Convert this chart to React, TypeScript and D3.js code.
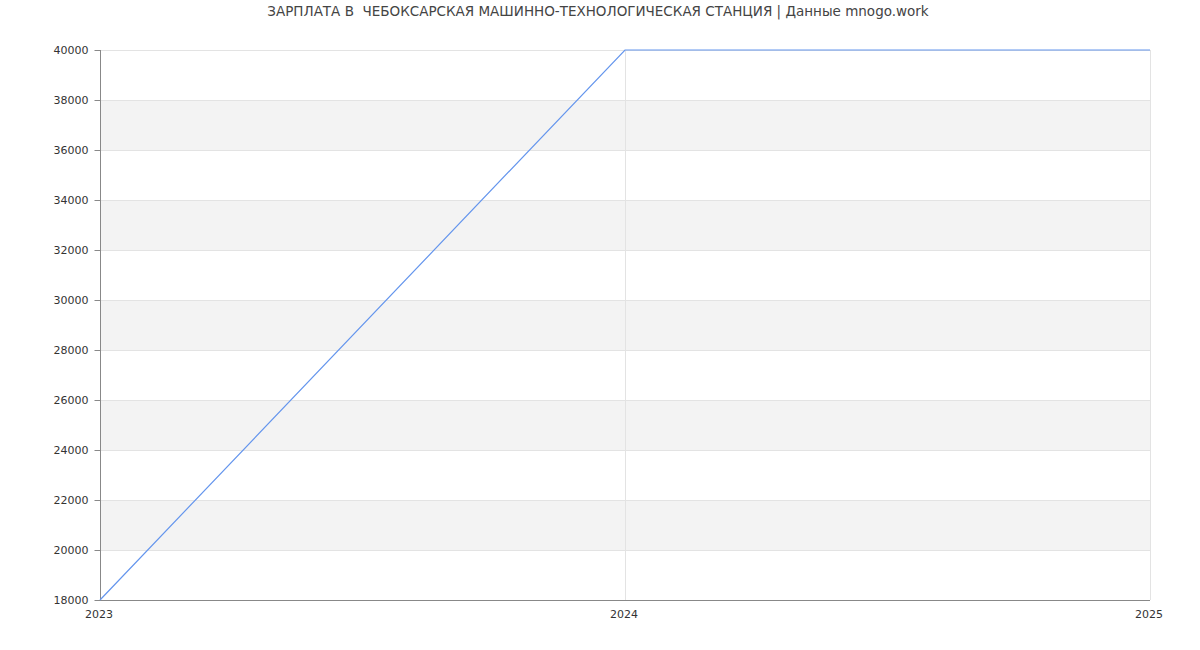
import { useEffect, useRef } from "react";
import * as d3 from "d3";

const years = [2023, 2024, 2025];
const salaries = [18000, 40000, 40000];
const yTicks = [18000, 20000, 22000, 24000, 26000, 28000, 30000, 32000, 34000, 36000, 38000, 40000];
const title = "ЗАРПЛАТА В  ЧЕБОКСАРСКАЯ МАШИННО-ТЕХНОЛОГИЧЕСКАЯ СТАНЦИЯ | Данные mnogo.work";

export default function App() {
  const svgRef = useRef<SVGSVGElement>(null);

  useEffect(() => {
    if (!svgRef.current) return;
    const svg = d3.select(svgRef.current);
    svg.selectAll("*").remove();

    const width = 1200;
    const height = 650;
    const margin = { top: 50, right: 50, bottom: 50, left: 100 };
    const chartWidth = width - margin.left - margin.right;
    const chartHeight = height - margin.top - margin.bottom;
    const font = "'DejaVu Sans', Verdana, sans-serif";

    const x = d3.scaleLinear().domain([2023, 2025]).range([0, chartWidth]);
    const y = d3.scaleLinear().domain([18000, 40000]).range([chartHeight, 0]);

    const g = svg
      .append("g")
      .attr("transform", `translate(${margin.left},${margin.top})`);

    // alternating bands
    for (let i = 1; i < yTicks.length - 1; i += 2) {
      g.append("rect")
        .attr("x", 0)
        .attr("y", y(yTicks[i + 1]))
        .attr("width", chartWidth)
        .attr("height", y(yTicks[i]) - y(yTicks[i + 1]))
        .attr("fill", "#f3f3f3");
    }

    // horizontal grid
    g.selectAll(".hgrid")
      .data(yTicks)
      .enter()
      .append("line")
      .attr("x1", 0)
      .attr("x2", chartWidth)
      .attr("y1", (d) => Math.round(y(d)) + 0.5)
      .attr("y2", (d) => Math.round(y(d)) + 0.5)
      .attr("stroke", "#e3e3e3");

    // vertical grid
    g.selectAll(".vgrid")
      .data(years.slice(1))
      .enter()
      .append("line")
      .attr("x1", (d) => Math.round(x(d)) + 0.5)
      .attr("x2", (d) => Math.round(x(d)) + 0.5)
      .attr("y1", 0)
      .attr("y2", chartHeight)
      .attr("stroke", "#e3e3e3");

    // y axis
    const yAxis = g
      .append("g")
      .attr("transform", "translate(0.5,0)")
      .call(
        d3
          .axisLeft(y)
          .tickValues(yTicks)
          .tickSize(6)
          .tickPadding(6)
          .tickFormat((d) => String(d))
      );
    yAxis.select(".domain").attr("stroke", "#888").attr("d", `M0,0V${chartHeight}`);
    yAxis.selectAll(".tick line").attr("stroke", "#888");
    yAxis
      .selectAll("text")
      .style("font-family", font)
      .style("font-size", "11px")
      .attr("fill", "#333");

    // x axis
    const xAxis = g
      .append("g")
      .attr("transform", `translate(0,${chartHeight + 0.5})`)
      .call(
        d3
          .axisBottom(x)
          .tickValues(years)
          .tickSize(0)
          .tickPadding(10)
          .tickFormat((d) => String(d))
      );
    xAxis.select(".domain").attr("stroke", "#888").attr("d", `M0,0H${chartWidth}`);
    xAxis
      .selectAll("text")
      .style("font-family", font)
      .style("font-size", "11px")
      .attr("fill", "#333")
      .attr("dx", "-1.5");

    // line
    const line = d3
      .line<number>()
      .x((_, i) => x(years[i]))
      .y((d) => y(d));

    g.append("path")
      .datum(salaries)
      .attr("fill", "none")
      .attr("stroke", "#6495ed")
      .attr("stroke-width", 1.2)
      .attr("d", line);

    // title
    svg
      .append("text")
      .attr("x", 598)
      .attr("y", 16)
      .attr("text-anchor", "middle")
      .style("white-space", "pre")
      .style("font-family", font)
      .style("font-size", "13.5px")
      .attr("fill", "#444")
      .text(title);
  }, []);

  return (
    <svg
      ref={svgRef}
      width={1200}
      height={650}
      style={{ position: "absolute", left: 0, top: 0, background: "#fff" }}
    />
  );
}
